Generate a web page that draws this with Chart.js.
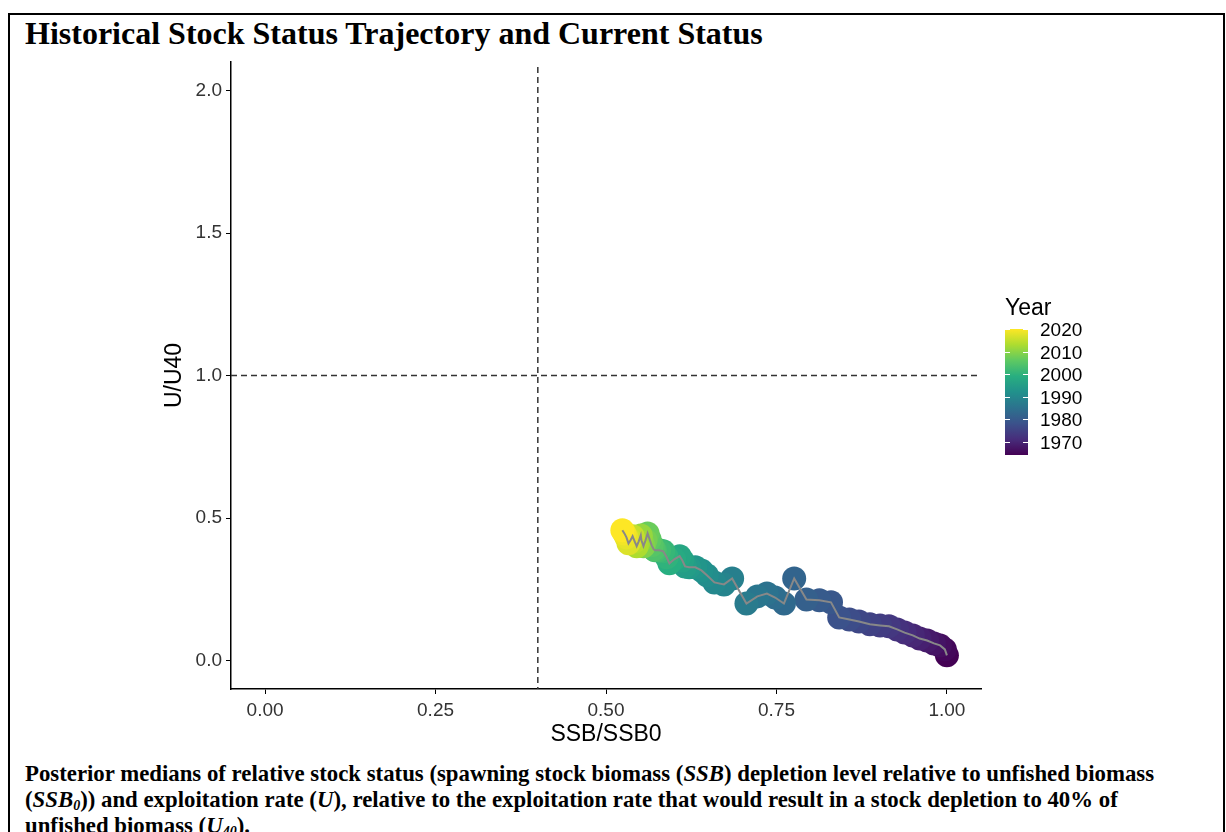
<!DOCTYPE html>
<html>
<head>
<meta charset="utf-8">
<script src="https://cdn.jsdelivr.net/npm/chart.js@4.4.1/dist/chart.umd.min.js"></script>
<style>
  html, body { margin:0; padding:0; background:#fff; width:1226px; height:832px; overflow:hidden; }
  #frame { position:absolute; left:8px; top:13px; width:1217px; height:900px; border:2px solid #000; box-sizing:border-box; }
  #title { position:absolute; left:25px; top:14px; font-family:"Liberation Serif","Times New Roman",serif; font-weight:bold; font-size:32px; line-height:38px; color:#000; white-space:nowrap; }
  #wrap { position:absolute; left:0; top:0; width:1226px; height:760px; }
  #legend { position:absolute; left:1005px; top:294px; font-family:"Liberation Sans",Arial,sans-serif; }
  #legtitle { position:absolute; left:0; top:0; font-size:23px; line-height:26px; color:#000; }
  #bar { position:absolute; left:0; width:23px; }
  .lab { position:absolute; left:35px; font-size:19px; color:#000; line-height:20px; }
  .tk { position:absolute; height:1px; width:5px; background:#fff; }
  #caption { position:absolute; left:25px; top:761px; font-family:"Liberation Serif","Times New Roman",serif; font-weight:bold; font-size:22.8px; line-height:26px; color:#000; white-space:nowrap; }
  #caption sub { font-size:14px; vertical-align:-3px; line-height:0; }
</style>
</head>
<body>
<div id="frame"></div>
<div id="title">Historical Stock Status Trajectory and Current Status</div>
<div id="wrap"><canvas id="c" width="1226" height="760"></canvas></div>
<div id="legend"><div id="legtitle">Year</div></div>
<div id="caption">Posterior medians of relative stock status (spawning stock biomass (<i>SSB</i>) depletion level relative to unfished biomass<br>(<i>SSB<sub>0</sub></i>)) and exploitation rate (<i>U</i>), relative to the exploitation rate that would result in a stock depletion to 40% of<br>unfished biomass (<i>U<sub>40</sub></i>).</div>
<script>
// ---- data ----
const years = [1964,1965,1966,1967,1968,1969,1970,1971,1972,1973,1974,1975,1976,1977,1978,1979,1980,1981,1982,1983,1984,1985,1986,1987,1988,1989,1990,1991,1992,1993,1994,1995,1996,1997,1998,1999,2000,2001,2002,2003,2004,2005,2006,2007,2008,2009,2010,2011,2012,2013,2014,2015,2016,2017,2018,2019,2020];
const ssbRatio = [1.000,0.997,0.990,0.981,0.971,0.960,0.950,0.938,0.927,0.915,0.902,0.887,0.871,0.857,0.842,0.830,0.813,0.794,0.776,0.761,0.748,0.736,0.722,0.706,0.685,0.673,0.659,0.648,0.640,0.631,0.622,0.616,0.612,0.608,0.600,0.593,0.589,0.584,0.578,0.572,0.570,0.567,0.564,0.561,0.558,0.555,0.552,0.551,0.548,0.545,0.542,0.539,0.536,0.533,0.530,0.527,0.524];
const uRatio = [0.018,0.039,0.053,0.060,0.070,0.077,0.088,0.098,0.109,0.120,0.123,0.127,0.137,0.144,0.151,0.204,0.211,0.214,0.288,0.200,0.221,0.235,0.225,0.200,0.288,0.267,0.274,0.299,0.316,0.327,0.327,0.330,0.351,0.366,0.355,0.341,0.362,0.383,0.387,0.387,0.390,0.404,0.425,0.446,0.422,0.401,0.422,0.439,0.418,0.401,0.418,0.436,0.422,0.411,0.432,0.446,0.457];
const xTickValues = [0, 0.25, 0.5, 0.75, 1.0];
const xTickLabels = ["0.00","0.25","0.50","0.75","1.00"];
const yTickValues = [0, 0.5, 1.0, 1.5, 2.0];
const yTickLabels = ["0.0","0.5","1.0","1.5","2.0"];
const legendYears = [1970,1980,1990,2000,2010,2020];
const refSSB = 0.4;
const refU = 1.0;

// ---- viridis colour scale ----
const viridis = ["#440154","#472d7b","#3b528b","#2c728e","#21918c","#28ae80","#5ec962","#addc30","#fde725"];
function hex2rgb(h){ return [parseInt(h.slice(1,3),16),parseInt(h.slice(3,5),16),parseInt(h.slice(5,7),16)]; }
function viridisAt(t){
  t = Math.max(0, Math.min(1, t));
  const p = t*(viridis.length-1), i = Math.min(Math.floor(p), viridis.length-2), f = p-i;
  const a = hex2rgb(viridis[i]), b = hex2rgb(viridis[i+1]);
  return 'rgb(' + a.map((v,k)=>Math.round(v+(b[k]-v)*f)).join(',') + ')';
}
const yMin = Math.min(...years), yMax = Math.max(...years);
const pointColors = years.map(y => viridisAt((y-yMin)/(yMax-yMin)));
const pts = years.map((y,i)=>({x:ssbRatio[i], y:uRatio[i]}));

// ---- legend colour bar ----
(function(){
  const leg = document.getElementById('legend');
  const barTop = 35, barH = 126;
  const bar = document.createElement('div');
  bar.id = 'bar';
  bar.style.top = barTop+'px'; bar.style.height = barH+'px';
  bar.style.background = 'linear-gradient(to top,' + viridis.join(',') + ')';
  leg.appendChild(bar);
  legendYears.forEach(yr=>{
    const yy = barTop + barH - (yr-yMin)/(yMax-yMin)*barH;
    const l = document.createElement('div'); l.className='lab'; l.textContent=yr; l.style.top=(yy-9)+'px'; leg.appendChild(l);
    [0,18].forEach(x=>{ const t=document.createElement('div'); t.className='tk'; t.style.left=x+'px'; t.style.top=Math.round(yy)+'px'; leg.appendChild(t); });
  });
})();

// ---- chart ----
Chart.defaults.font.family = "'Liberation Sans', Arial, sans-serif";
const refLines = {
  id:'refLines',
  beforeDatasetsDraw(chart){
    const {ctx, chartArea:a, scales:{x,y}} = chart;
    ctx.save();
    ctx.strokeStyle = '#333'; ctx.lineWidth = 1.5; ctx.setLineDash([6,4]);
    const px = x.getPixelForValue(refSSB);
    ctx.beginPath(); ctx.moveTo(px, a.top+5); ctx.lineTo(px, a.bottom); ctx.stroke();
    const py = y.getPixelForValue(refU);
    ctx.beginPath(); ctx.moveTo(a.left, py); ctx.lineTo(a.right, py); ctx.stroke();
    ctx.restore();
  }
};
new Chart(document.getElementById('c'), {
  type:'scatter',
  data:{ datasets:[
    { type:'line', data:pts, borderColor:'#888888', borderWidth:2, pointRadius:0, fill:false, tension:0, order:0 },
    { type:'scatter', data:pts, backgroundColor:pointColors, borderWidth:0, pointRadius:12, pointHoverRadius:12, order:1 }
  ]},
  options:{
    responsive:false, animation:false,
    layout:{ padding:{left:150, top:62, right:245, bottom:11} },
    plugins:{ legend:{display:false}, tooltip:{enabled:false} },
    scales:{
      x:{ type:'linear', min:-0.05, max:1.05,
        afterBuildTicks(s){ s.ticks = xTickValues.map(v=>({value:v})); },
        afterFit(s){ s.height = 60; },
        ticks:{ callback:(v)=>xTickLabels[xTickValues.indexOf(v)], color:'#333', font:{size:19}, padding:5, maxRotation:0 },
        grid:{ display:true, drawOnChartArea:false, drawTicks:true, tickLength:5, color:'#000', lineWidth:1 },
        border:{ display:true, color:'#000', width:1.5 },
        title:{ display:true, text:'SSB/SSB0', color:'#000', font:{size:23}, padding:{top:0,bottom:1} }
      },
      y:{ type:'linear', min:-0.1, max:2.1,
        afterBuildTicks(s){ s.ticks = yTickValues.map(v=>({value:v})); },
        afterFit(s){ s.width = 81; },
        ticks:{ callback:(v)=>yTickLabels[yTickValues.indexOf(v)], color:'#333', font:{size:19}, padding:4 },
        grid:{ display:true, drawOnChartArea:false, drawTicks:true, tickLength:5, color:'#000', lineWidth:1 },
        border:{ display:true, color:'#000', width:1.5 },
        title:{ display:true, text:'U/U40', color:'#000', font:{size:23}, padding:{top:11,bottom:0} }
      }
    }
  },
  plugins:[refLines]
});
</script>
</body>
</html>
